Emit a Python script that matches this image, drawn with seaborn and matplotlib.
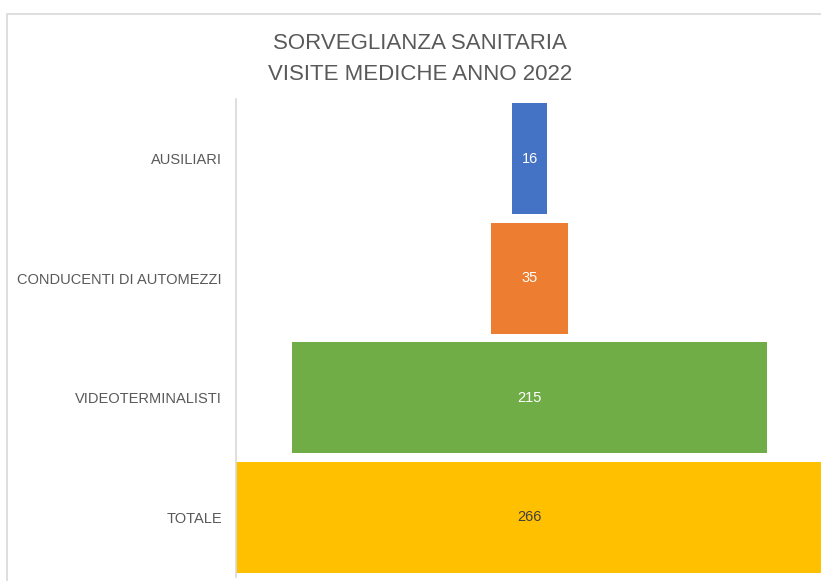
import matplotlib
matplotlib.use("Agg")
import matplotlib.pyplot as plt
import seaborn as sns
import pandas as pd
from matplotlib.patches import Rectangle

categories = ["AUSILIARI", "CONDUCENTI DI AUTOMEZZI", "VIDEOTERMINALISTI", "TOTALE"]
values = [16, 35, 215, 266]
colors = ["#4472C4", "#ED7D31", "#70AD47", "#FFC000"]
label_colors = ["white", "white", "white", "#404040"]
title = "SORVEGLIANZA SANITARIA\nVISITE MEDICHE ANNO 2022"

sns.set_theme(style="white")
plt.rcParams["font.family"] = ["Liberation Sans", "DejaVu Sans"]

df = pd.DataFrame({"cat": categories, "val": values})

fig = plt.figure(figsize=(8.21, 5.81), dpi=100)
ax = fig.add_axes([236 / 821, 1 - 577 / 581, (823 - 236) / 821, (577 - 99) / 581])

sns.barplot(data=df, x="val", y="cat", hue="cat", palette=colors, legend=False,
            width=0.93, linewidth=0, saturation=1, ax=ax, orient="h")

# center bars (funnel)
for p in ax.patches:
    w = p.get_width()
    p.set_x(-w / 2)

ax.set_xlim(-133, 133)
ax.set_ylim(3.5, -0.5)

for i, (v, c) in enumerate(zip(values, label_colors)):
    ax.text(0, i, str(v), ha="center", va="center", color=c, fontsize=10.5)

ax.set_xlabel("")
ax.set_ylabel("")
ax.set_xticks([])
ax.tick_params(axis="y", length=0, pad=10, labelsize=10.5, labelcolor="#595959")
for s in ["top", "right", "bottom"]:
    ax.spines[s].set_visible(False)
ax.spines["left"].set_color("#D9D9D9")
ax.spines["left"].set_linewidth(1.2)

# chart frame
fig.patches.append(Rectangle((7 / 821, -0.1), 1.2, 1 - 14 / 581 + 0.1,
                             transform=fig.transFigure, fill=False,
                             edgecolor="#D9D9D9", linewidth=1.2, zorder=0))

fig.text(420 / 821, 1 - 59 / 581, title, ha="center", va="center",
         fontsize=16, color="#595959", linespacing=1.6)

fig.savefig("out.png", dpi=100)
